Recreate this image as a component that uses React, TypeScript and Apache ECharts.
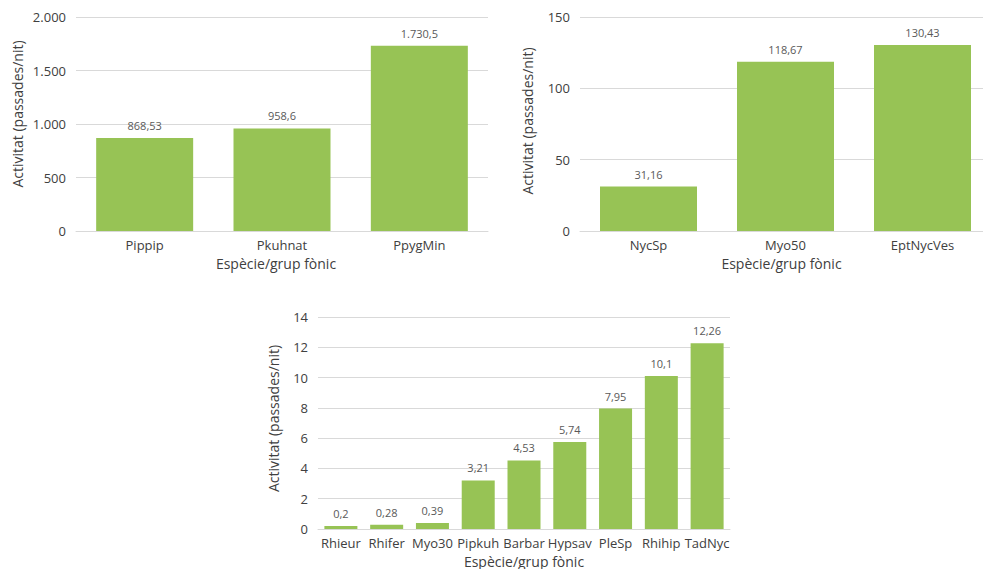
import React, { useEffect, useRef } from "react";
import * as echarts from "echarts";

const cats1 = ["Pippip", "Pkuhnat", "PpygMin"];
const vals1 = [868.53, 958.6, 1730.5];
const cats2 = ["NycSp", "Myo50", "EptNycVes"];
const vals2 = [31.16, 118.67, 130.43];
const cats3 = ["Rhieur", "Rhifer", "Myo30", "Pipkuh", "Barbar", "Hypsav", "PleSp", "Rhihip", "TadNyc"];
const vals3 = [0.2, 0.28, 0.39, 3.21, 4.53, 5.74, 7.95, 10.1, 12.26];

const yAxisName = "Activitat (passades/nit)";
const xAxisName = "Espècie/grup fònic";

const FONT = "'Open Sans', Lato, sans-serif";
const GREEN = "#97c355";

function fmtCat(v: number): string {
  const parts = String(v).split(".");
  const intPart = parts[0].replace(/\B(?=(\d{3})+(?!\d))/g, ".");
  return parts.length > 1 ? intPart + "," + parts[1] : intPart;
}

export default function App() {
  const ref = useRef<HTMLDivElement>(null);
  useEffect(() => {
    if (!ref.current) return;
    const chart = echarts.init(ref.current, undefined, { renderer: "svg" });
    const grids = [
      { left: 76, top: 17, width: 412, height: 214 },
      { left: 580, top: 17, width: 411, height: 214 },
      { left: 318, top: 317, width: 412, height: 213 },
    ];
    const yCfg = [
      { max: 2000, interval: 500, gap: 52, pad: [0, 0, 0, 20] },
      { max: 150, interval: 50, gap: 46, pad: [0, 0, 0, 6] },
      { max: 14, interval: 2, gap: 38, pad: [0, 0, 0, 9] },
    ];
    const xPad = [
      [0, 12, 0, 0],
      [0, 8, 0, 0],
      [0, 0, 0, 0],
    ];
    const cats = [cats1, cats2, cats3];
    const vals = [vals1, vals2, vals3];
    const barW = [97, 97, 33];
    const option: any = {
      animation: false,
      textStyle: { fontFamily: FONT },
      grid: grids.map((g) => ({ ...g, containLabel: false })),
      xAxis: cats.map((c, i) => ({
        type: "category",
        gridIndex: i,
        data: c,
        name: xAxisName,
        nameLocation: "middle",
        nameGap: 25,
        nameTextStyle: { fontFamily: FONT, fontSize: 14, color: "#404040", padding: xPad[i] },
        axisLine: { show: true, lineStyle: { color: "#d9d9d9", width: 1 } },
        axisTick: { show: false },
        axisLabel: { fontFamily: FONT, fontSize: 13, color: "#404040", margin: 7, interval: 0 },
      })),
      yAxis: yCfg.map((y, i) => ({
        type: "value",
        gridIndex: i,
        min: 0,
        max: y.max,
        interval: y.interval,
        name: yAxisName,
        nameLocation: "middle",
        nameGap: y.gap,
        nameTextStyle: { fontFamily: FONT, fontSize: 14, color: "#404040", padding: y.pad },
        axisLine: { show: false },
        axisTick: { show: false },
        splitLine: { lineStyle: { color: "#d9d9d9", width: 1 } },
        axisLabel: {
          fontFamily: FONT,
          fontSize: 13,
          color: "#404040",
          margin: 10,
          formatter: (v: number) => fmtCat(v),
        },
      })),
      series: vals.map((v, i) => ({
        type: "bar",
        xAxisIndex: i,
        yAxisIndex: i,
        data: v,
        barWidth: barW[i],
        itemStyle: { color: GREEN },
        label: {
          show: true,
          position: "top",
          distance: 7,
          fontFamily: FONT,
          fontSize: 11,
          color: "#595959",
          formatter: (p: any) => fmtCat(p.value),
        },
      })),
    };
    chart.setOption(option);
    return () => chart.dispose();
  }, []);
  return (
    <div
      style={{ position: "fixed", left: 0, top: 0, width: 983, height: 569, overflow: "hidden", background: "#fff" }}
    >
      <div ref={ref} style={{ width: 1000, height: 569 }} />
    </div>
  );
}
